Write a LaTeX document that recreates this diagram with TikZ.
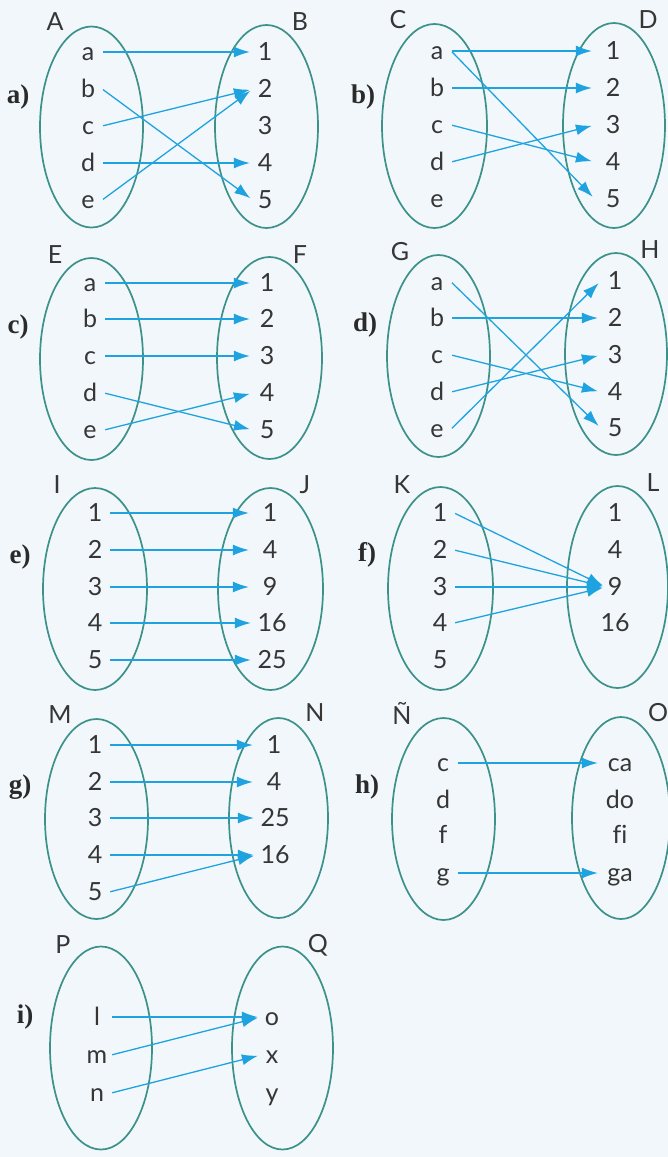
\documentclass[tikz,border=0pt]{standalone}
\usepackage{fontspec}
\setmainfont{Lato}
\newfontfamily\plfamily{Liberation Serif}
\usetikzlibrary{arrows.meta,shapes.geometric}
\definecolor{bgcol}{HTML}{F1F7FA}
\definecolor{setcol}{HTML}{3C918A}
\definecolor{arrcol}{HTML}{1FA3E0}
\definecolor{txtcol}{HTML}{363636}
\definecolor{plcol}{HTML}{2A2A2A}
\tikzset{
  sete/.style={draw=setcol, line width=1.7pt, ellipse, inner sep=0pt},
  el/.style={font=\fontsize{25}{28}\selectfont, text=txtcol, inner sep=0pt, minimum width=28pt, text height=17pt, text depth=0pt},
  er/.style={el, minimum width=#1},
  setl/.style={font=\fontsize{25}{28}\selectfont, text=txtcol, inner sep=0pt},
  pl/.style={font=\plfamily\bfseries\fontsize{27}{30}\selectfont, text=plcol, inner sep=0pt},
  arr/.style={-{Latex[length=16pt,width=11pt]}, draw=arrcol, line width=1.3pt, shorten >=3pt, shorten <=1pt}
}
\begin{document}
\begin{tikzpicture}[x=1pt,y=-1pt]
\fill[bgcol] (0,0) rectangle (668,1157);
\useasboundingbox (0,0) rectangle (668,1157);
% ---------- a)
\node[sete,minimum width=103pt,minimum height=201pt] (A) at (91.5,127) {};
\node[sete,minimum width=103pt,minimum height=203pt] (B) at (266.5,126.5) {};
\node[setl] (lA) at (55,22) {A};
\node[setl] (lB) at (300,22) {B};
\node[pl] (pa) at (18,97) {a)};
\node[el] (a1) at (88,52) {a};
\node[el] (a2) at (88,89) {b};
\node[el] (a3) at (88,126) {c};
\node[el] (a4) at (88,163) {d};
\node[el] (a5) at (88,200) {e};
\node[er=24pt] (ar1) at (265,52) {1};
\node[er=24pt] (ar2) at (265,89) {2};
\node[er=24pt] (ar3) at (265,126) {3};
\node[er=24pt] (ar4) at (265,163) {4};
\node[er=24pt] (ar5) at (265,200) {5};
\draw[arr] (a1.east) -- (ar1.west);
\draw[arr] (a2.east) -- (ar5.west);
\draw[arr] (a3.east) -- (ar2.west);
\draw[arr] (a4.east) -- (ar4.west);
\draw[arr] (a5.east) -- (ar2.west);
% ---------- b)
\node[sete,minimum width=105pt,minimum height=204pt] (C) at (434.5,126) {};
\node[sete,minimum width=102pt,minimum height=205pt] (D) at (614,125.5) {};
\node[setl] (lC) at (398,20) {C};
\node[setl] (lD) at (648,20) {D};
\node[pl] (pb) at (363,97) {b)};
\node[el] (b1) at (437,51) {a};
\node[el] (b2) at (437,88) {b};
\node[el] (b3) at (437,125) {c};
\node[el] (b4) at (437,162) {d};
\node[el] (b5) at (437,199) {e};
\node[er=36pt] (br1) at (613,51) {1};
\node[er=36pt] (br2) at (613,88) {2};
\node[er=36pt] (br3) at (613,125) {3};
\node[er=36pt] (br4) at (613,162) {4};
\node[er=36pt] (br5) at (613,199) {5};
\draw[arr] (b1.east) -- (br1.west);
\draw[arr] (b1.east) -- (br5.west);
\draw[arr] (b2.east) -- (br2.west);
\draw[arr] (b3.east) -- (br4.west);
\draw[arr] (b4.east) -- (br3.west);
% ---------- c)
\node[sete,minimum width=103pt,minimum height=202pt] (E) at (91.5,359) {};
\node[sete,minimum width=105pt,minimum height=202pt] (F) at (269.5,358) {};
\node[setl] (lE) at (55,255) {E};
\node[setl] (lF) at (300,255) {F};
\node[pl] (pc) at (18,327) {c)};
\node[el] (c1) at (90,283) {a};
\node[el] (c2) at (90,319) {b};
\node[el] (c3) at (90,356) {c};
\node[el] (c4) at (90,393) {d};
\node[el] (c5) at (90,430) {e};
\node[er=28pt] (cr1) at (267,283) {1};
\node[er=28pt] (cr2) at (267,319) {2};
\node[er=28pt] (cr3) at (267,356) {3};
\node[er=28pt] (cr4) at (267,393) {4};
\node[er=28pt] (cr5) at (267,430) {5};
\draw[arr] (c1.east) -- (cr1.west);
\draw[arr] (c2.east) -- (cr2.west);
\draw[arr] (c3.east) -- (cr3.west);
\draw[arr] (c4.east) -- (cr5.west);
\draw[arr] (c5.east) -- (cr4.west);
% ---------- d)
\node[sete,minimum width=103pt,minimum height=202pt] (G) at (438.5,356) {};
\node[sete,minimum width=102pt,minimum height=202pt] (H) at (616,354) {};
\node[setl] (lG) at (400,252) {G};
\node[setl] (lH) at (650,250) {H};
\node[pl] (pd) at (365,325) {d)};
\node[el] (d1) at (437,282) {a};
\node[el] (d2) at (437,318) {b};
\node[el] (d3) at (437,355) {c};
\node[el] (d4) at (437,392) {d};
\node[el] (d5) at (437,429) {e};
\node[er=28pt] (dr1) at (615,281) {1};
\node[er=28pt] (dr2) at (615,318) {2};
\node[er=28pt] (dr3) at (615,355) {3};
\node[er=28pt] (dr4) at (615,392) {4};
\node[er=28pt] (dr5) at (615,428) {5};
\draw[arr] (d1.east) -- (dr5.west);
\draw[arr] (d2.east) -- (dr2.west);
\draw[arr] (d3.east) -- (dr4.west);
\draw[arr] (d4.east) -- (dr3.west);
\draw[arr] (d5.east) -- (dr1.west);
% ---------- e)
\node[sete,minimum width=104pt,minimum height=202pt] (I) at (95,589) {};
\node[sete,minimum width=105pt,minimum height=202pt] (J) at (270.5,589) {};
\node[setl] (lI) at (57,485) {I};
\node[setl] (lJ) at (305,485) {J};
\node[pl] (pe) at (20,557) {e)};
\node[el] (e1) at (95,513) {1};
\node[el] (e2) at (95,550) {2};
\node[el] (e3) at (95,587) {3};
\node[el] (e4) at (95,623) {4};
\node[el] (e5) at (95,660) {5};
\node[er=36pt] (er1) at (270,513) {1};
\node[er=36pt] (er2) at (270,550) {4};
\node[er=36pt] (er3) at (270,587) {9};
\node[er=36pt] (er4) at (272,623) {16};
\node[er=36pt] (er5) at (272,660) {25};
\draw[arr] (e1.east) -- (er1.west);
\draw[arr] (e2.east) -- (er2.west);
\draw[arr] (e3.east) -- (er3.west);
\draw[arr] (e4.east) -- (er4.west);
\draw[arr] (e5.east) -- (er5.west);
% ---------- f)
\node[sete,minimum width=105pt,minimum height=203pt] (K) at (440.5,588.5) {};
\node[sete,minimum width=101pt,minimum height=202pt] (L) at (617.5,587) {};
\node[setl] (lK) at (402,485) {K};
\node[setl] (lL) at (653,483) {L};
\node[pl] (pf) at (367,555) {f)};
\node[el] (f1) at (440,513) {1};
\node[el] (f2) at (440,550) {2};
\node[el] (f3) at (440,587) {3};
\node[el] (f4) at (440,623) {4};
\node[el] (f5) at (440,660) {5};
\node[er=18pt] (fr1) at (615,513) {1};
\node[er=18pt] (fr2) at (615,550) {4};
\node[er=18pt] (fr3) at (615,587) {9};
\node[er=18pt] (fr4) at (615,623) {16};
\draw[arr] (f1.east) -- (fr3.west);
\draw[arr] (f2.east) -- (fr3.west);
\draw[arr] (f3.east) -- (fr3.west);
\draw[arr] (f4.east) -- (fr3.west);
% ---------- g)
\node[sete,minimum width=103pt,minimum height=200pt] (M) at (96.5,819) {};
\node[sete,minimum width=99pt,minimum height=200pt] (N) at (278.5,818) {};
\node[setl] (lM) at (60,715) {M};
\node[setl] (lN) at (315,713) {N};
\node[pl] (pg) at (20,787) {g)};
\node[el] (g1) at (95,745) {1};
\node[el] (g2) at (95,782) {2};
\node[el] (g3) at (95,818) {3};
\node[el] (g4) at (95,855) {4};
\node[el] (g5) at (95,892) {5};
\node[er=36pt] (gr1) at (274,745) {1};
\node[er=36pt] (gr2) at (274,782) {4};
\node[er=36pt] (gr3) at (275,818) {25};
\node[er=36pt] (gr4) at (275,855) {16};
\draw[arr] (g1.east) -- (gr1.west);
\draw[arr] (g2.east) -- (gr2.west);
\draw[arr] (g3.east) -- (gr3.west);
\draw[arr] (g4.east) -- (gr4.west);
\draw[arr] (g5.east) -- (gr4.west);
% ---------- h)
\node[sete,minimum width=103pt,minimum height=202pt] (Nt) at (443.5,819) {};
\node[sete,minimum width=98pt,minimum height=202pt] (O) at (621,818) {};
\node[setl] (lNt) at (402,713) {Ñ};
\node[setl] (lO) at (658,713) {O};
\node[pl] (ph) at (367,787) {h)};
\node[el] (h1) at (443,763) {c};
\node[el] (h2) at (443,800) {d};
\node[el] (h3) at (443,835) {f};
\node[el] (h4) at (443,873) {g};
\node[er=38pt] (hr1) at (620,763) {ca};
\node[er=38pt] (hr2) at (620,800) {do};
\node[er=38pt] (hr3) at (620,835) {f\kern0pt i};
\node[er=38pt] (hr4) at (620,873) {ga};
\draw[arr] (h1.east) -- (hr1.west);
\draw[arr] (h4.east) -- (hr4.west);
% ---------- i)
\node[sete,minimum width=102pt,minimum height=203pt] (P) at (101,1048) {};
\node[sete,minimum width=101pt,minimum height=203pt] (Q) at (282.5,1048) {};
\node[setl] (lP) at (63,945) {P};
\node[setl] (lQ) at (318,945) {Q};
\node[pl] (pi) at (25,1017) {i)};
\node[el] (i1) at (97,1017) {l};
\node[el] (i2) at (97,1055) {m};
\node[el] (i3) at (97,1093) {n};
\node[er=22pt] (ir1) at (272,1017) {o};
\node[er=22pt] (ir2) at (272,1055) {x};
\node[er=22pt] (ir3) at (272,1093) {y};
\draw[arr] (i1.east) -- (ir1.west);
\draw[arr] (i2.east) -- (ir1.west);
\draw[arr] (i3.east) -- (ir2.west);
\end{tikzpicture}
\end{document}
